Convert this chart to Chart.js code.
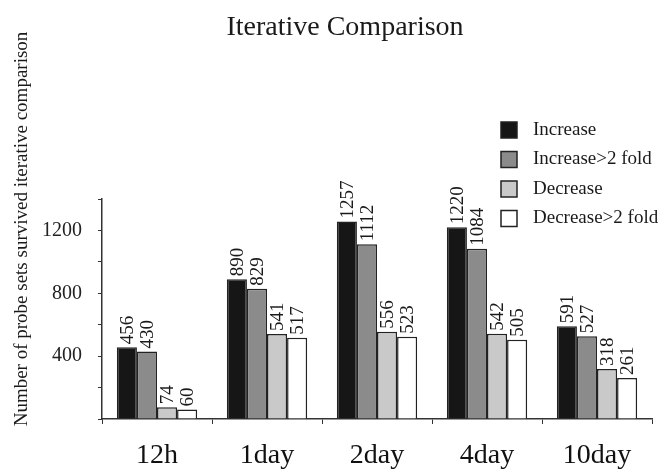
<!DOCTYPE html>
<html>
<head>
<meta charset="utf-8">
<script src="https://cdn.jsdelivr.net/npm/chart.js@4/dist/chart.umd.min.js"></script>
<style>
  html, body { margin: 0; padding: 0; background: #fff; }
  #wrap { width: 667px; height: 472px; }
</style>
</head>
<body>
<div id="wrap"><canvas id="chart" width="667" height="472"></canvas></div>
<script>
const categories = ['12h', '1day', '2day', '4day', '10day'];
const seriesNames = ['Increase', 'Increase>2 fold', 'Decrease', 'Decrease>2 fold'];
const increase = [456, 890, 1257, 1220, 591];
const increase2fold = [430, 829, 1112, 1084, 527];
const decrease = [74, 541, 556, 542, 318];
const decrease2fold = [60, 517, 523, 505, 261];
const yTickLabels = [400, 800, 1200];

const colors = ['#161616', '#8b8b8b', '#c9c9c9', '#ffffff'];
const serif = '"Liberation Serif", "DejaVu Serif", serif';

// rotated value labels above each bar, legend and titles
const decorations = {
  id: 'decorations',
  afterDatasetsDraw(chart) {
    const ctx = chart.ctx;
    ctx.save();
    ctx.fillStyle = '#1a1a1a';
    ctx.font = '19px ' + serif;
    chart.data.datasets.forEach((ds, i) => {
      chart.getDatasetMeta(i).data.forEach((bar, j) => {
        ctx.save();
        ctx.translate(bar.x + 1, bar.y - 3);
        ctx.rotate(-Math.PI / 2);
        ctx.textAlign = 'left';
        ctx.textBaseline = 'middle';
        ctx.fillText(String(ds.data[j]), 0, 0);
        ctx.restore();
      });
    });

    // legend
    ctx.font = '19px ' + serif;
    ctx.textBaseline = 'middle';
    ctx.textAlign = 'left';
    chart.data.datasets.forEach((ds, i) => {
      const y = 130 + i * 29.5;
      ctx.fillStyle = ds.backgroundColor;
      ctx.fillRect(501, y - 8, 16, 16);
      ctx.strokeStyle = '#222';
      ctx.lineWidth = 1.5;
      ctx.strokeRect(501, y - 8, 16, 16);
      ctx.fillStyle = '#1a1a1a';
      ctx.fillText(ds.label, 533, y);
    });

    // chart title
    ctx.font = '28px ' + serif;
    ctx.textAlign = 'center';
    ctx.fillText('Iterative Comparison', 345, 28);

    // y axis title
    ctx.save();
    ctx.translate(22, 229);
    ctx.rotate(-Math.PI / 2);
    ctx.font = '19px ' + serif;
    ctx.fillText('Number of probe sets survived iterative comparison', 0, 0);
    ctx.restore();
    ctx.restore();
  }
};

const values = [increase, increase2fold, decrease, decrease2fold];

new Chart(document.getElementById('chart'), {
  type: 'bar',
  data: {
    labels: categories,
    datasets: seriesNames.map((name, i) => ({
      label: name,
      data: values[i],
      backgroundColor: colors[i],
      borderColor: '#222',
      borderWidth: 1.5,
      categoryPercentage: 0.73,
      barPercentage: 1
    }))
  },
  options: {
    responsive: false,
    animation: false,
    layout: { padding: { top: 199, right: 15, left: 0, bottom: 0 } },
    plugins: {
      legend: { display: false },
      title: { display: false },
      tooltip: { enabled: false }
    },
    scales: {
      x: {
        offset: true,
        grid: { offset: true, drawOnChartArea: false, tickLength: 5, color: '#333' },
        border: { color: '#333', width: 1.5 },
        ticks: { font: { family: serif, size: 28 }, color: '#111', padding: 15 },
        afterFit: scale => { scale.height = 53; }
      },
      y: {
        min: 0,
        max: 1400,
        grid: { drawOnChartArea: false, tickLength: 4, color: '#333' },
        border: { color: '#333', width: 1.5 },
        ticks: {
          stepSize: 200,
          font: { family: serif, size: 20 },
          color: '#222',
          padding: 16,
          callback: v => (yTickLabels.includes(v) ? String(v) : '')
        },
        afterFit: scale => { scale.width = 102; }
      }
    }
  },
  plugins: [decorations]
});
</script>
</body>
</html>
